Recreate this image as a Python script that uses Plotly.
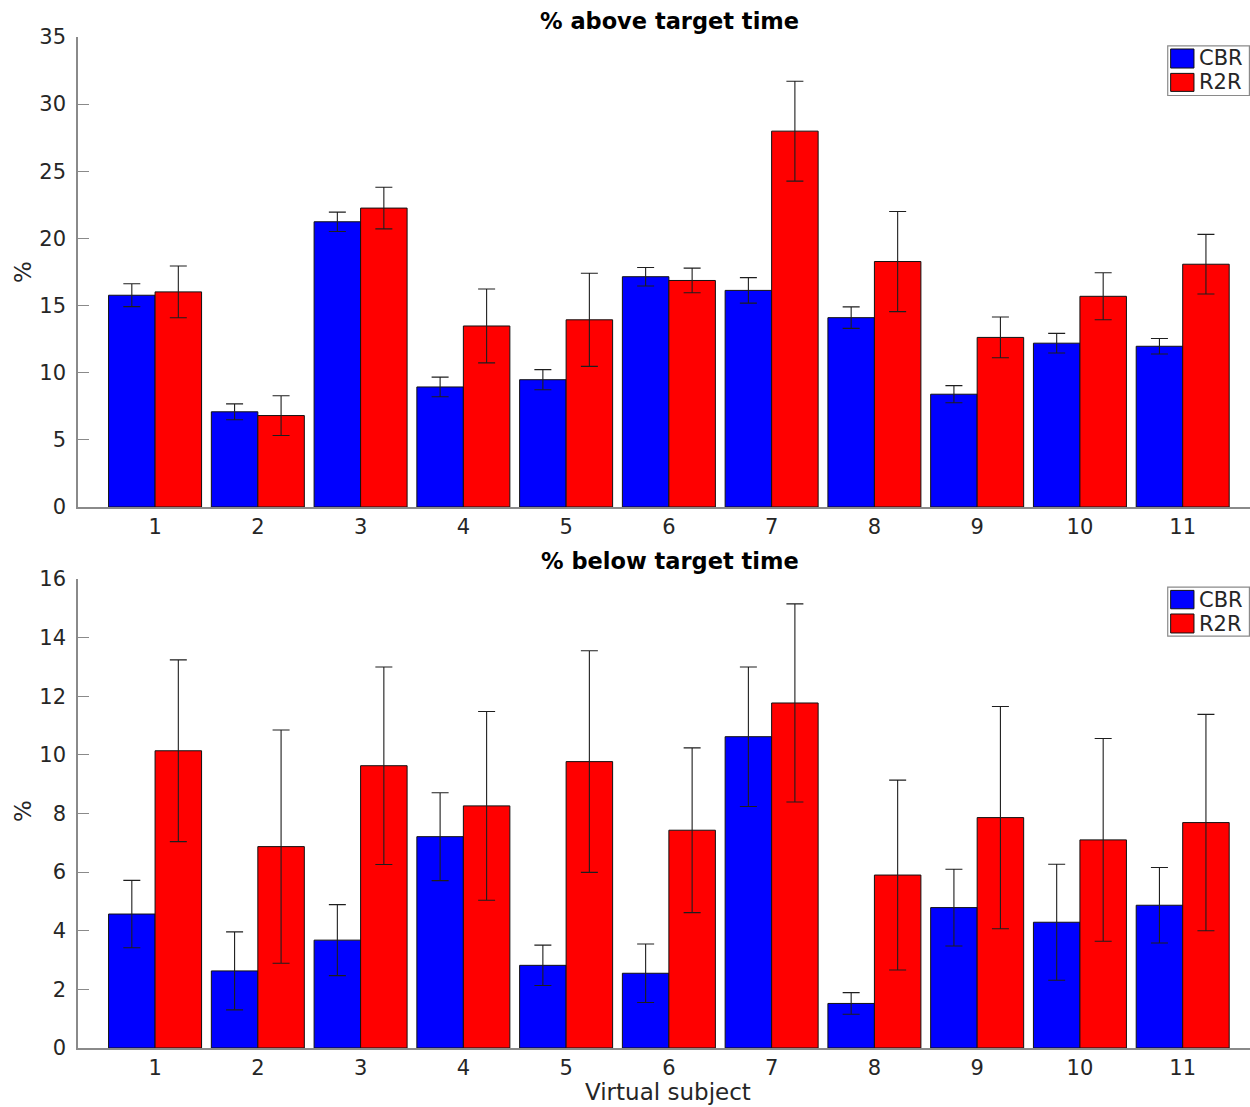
import plotly.graph_objects as go

# Virtual subjects on the x axis
subjects = list(range(1, 12))
subject_labels = [str(s) for s in subjects]

# % above target time (mean and error half-width)
above_cbr = [15.77, 7.09, 21.24, 8.94, 9.48, 17.15, 16.13, 14.10, 8.40, 12.20, 11.97]
above_cbr_err = [0.85, 0.59, 0.72, 0.73, 0.75, 0.69, 0.95, 0.80, 0.64, 0.73, 0.58]
above_r2r = [16.02, 6.81, 22.26, 13.48, 13.94, 16.87, 27.99, 18.28, 12.63, 15.69, 18.08]
above_r2r_err = [1.93, 1.48, 1.55, 2.75, 3.47, 0.92, 3.72, 3.73, 1.52, 1.75, 2.22]

# % below target time (mean and error half-width)
below_cbr = [4.57, 2.63, 3.68, 7.21, 2.82, 2.55, 10.62, 1.52, 4.79, 4.29, 4.87]
below_cbr_err = [1.15, 1.33, 1.21, 1.50, 0.69, 1.00, 2.38, 0.37, 1.31, 1.98, 1.29]
below_r2r = [10.14, 6.87, 9.63, 8.26, 9.77, 7.43, 11.77, 5.90, 7.86, 7.10, 7.69]
below_r2r_err = [3.10, 3.98, 3.37, 3.22, 3.78, 2.81, 3.38, 3.24, 3.79, 3.46, 3.69]

series_names = ["CBR", "R2R"]
series_colors = ["#0000FF", "#FF0000"]

FONT = "DejaVu Sans"
TEXT = "#262626"
AXIS = "#8a8a8a"
ERR = "#1e1e1e"


def bar_trace(values, errors, name, color, xa, ya):
    return go.Bar(
        x=subjects, y=values, name=name,
        marker=dict(color=color, line=dict(color="#111111", width=1)),
        error_y=dict(type="data", array=errors, visible=True,
                     color=ERR, thickness=1.1, width=8.5),
        xaxis=xa, yaxis=ya, showlegend=False,
    )


fig = go.Figure()
fig.add_trace(bar_trace(above_cbr, above_cbr_err, series_names[0], series_colors[0], "x", "y"))
fig.add_trace(bar_trace(above_r2r, above_r2r_err, series_names[1], series_colors[1], "x", "y"))
fig.add_trace(bar_trace(below_cbr, below_cbr_err, series_names[0], series_colors[0], "x2", "y2"))
fig.add_trace(bar_trace(below_r2r, below_r2r_err, series_names[1], series_colors[1], "x2", "y2"))

xaxis_style = dict(
    range=[0.25, 11.655], tickmode="array", tickvals=subjects, ticktext=subject_labels,
    ticks="", showline=True, linecolor=AXIS, linewidth=1.5, showgrid=False,
    zeroline=False, tickfont=dict(family=FONT, size=21, color=TEXT),
    ticklabelstandoff=0,
)
yaxis_style = dict(
    ticks="inside", ticklen=11, tickcolor=AXIS, tickwidth=1.2,
    showline=True, linecolor=AXIS, linewidth=1.5, showgrid=False,
    zeroline=False, tickfont=dict(family=FONT, size=21, color=TEXT),
    ticklabelstandoff=6,
)

fig.update_layout(
    width=1250, height=1107,
    margin=dict(l=78, r=0, t=37, b=59),
    paper_bgcolor="white", plot_bgcolor="white",
    barmode="group", bargap=0.095, bargroupgap=0,
    xaxis=dict(domain=[0, 1], anchor="y", **xaxis_style),
    yaxis=dict(domain=[0.5351, 1], anchor="x", range=[0, 35], dtick=5, **yaxis_style),
    xaxis2=dict(domain=[0, 1], anchor="y2", **xaxis_style),
    yaxis2=dict(domain=[0, 0.4639], anchor="x2", range=[0, 16], dtick=2, **yaxis_style),
)

annotations = []
shapes = []

# Panel titles and axis labels
for text, y in [("% above target time", 1.0161), ("% below target time", 0.4817)]:
    annotations.append(dict(text="<b>" + text + "</b>", x=0.505, y=y, xref="paper", yref="paper",
                            xanchor="center", yanchor="middle", showarrow=False,
                            font=dict(family=FONT, size=22.5, color="#000000")))
for y in [0.7676, 0.2344]:
    annotations.append(dict(text="%", x=-0.0469, y=y, xref="paper", yref="paper",
                            xanchor="center", yanchor="middle", textangle=-90, showarrow=False,
                            font=dict(family=FONT, size=23, color=TEXT)))
annotations.append(dict(text="Virtual subject", x=0.5034, y=-0.0435, xref="paper", yref="paper",
                        xanchor="center", yanchor="middle", showarrow=False,
                        font=dict(family=FONT, size=23, color=TEXT)))

# Legend box per panel: (x ref, y ref, box y range, patch y ranges, text y)
legend_specs = [
    ("x domain", "y domain", (0.8755, 0.9811), [(0.9340, 0.9745), (0.8843, 0.9226)], [0.9543, 0.9034]),
    ("x2 domain", "y2 domain", (0.8780, 0.9825), [(0.9365, 0.9757), (0.8849, 0.9254)], [0.9561, 0.9051]),
]
for xr, yr, (b0, b1), patches, text_ys in legend_specs:
    shapes.append(dict(type="rect", xref=xr, yref=yr, x0=0.9298, x1=0.9995, y0=b0, y1=b1,
                       line=dict(color="#8a8a8a", width=1.2), fillcolor="white", layer="above"))
    for (p0, p1), ty, name, color in zip(patches, text_ys, series_names, series_colors):
        shapes.append(dict(type="rect", xref=xr, yref=yr, x0=0.9323, x1=0.9522, y0=p0, y1=p1,
                           line=dict(color="#111111", width=1), fillcolor=color, layer="above"))
        annotations.append(dict(text=name, x=0.9545, y=ty, xref=xr, yref=yr,
                                xanchor="left", yanchor="middle", showarrow=False,
                                font=dict(family=FONT, size=21, color=TEXT)))

fig.update_layout(annotations=annotations, shapes=shapes)

fig.write_html("out.html")
